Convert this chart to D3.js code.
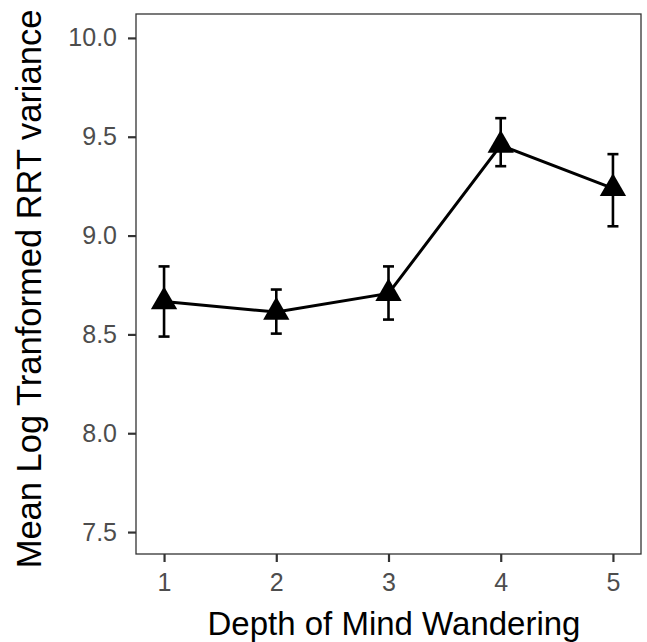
<!DOCTYPE html>
<html><head><meta charset="utf-8">
<script src="https://cdn.jsdelivr.net/npm/d3@7"></script>
<style>body{margin:0;background:#fff}</style>
</head><body>
<script>
const depth = [1, 2, 3, 4, 5];
const meanVals = [8.666, 8.613, 8.707, 9.457, 9.239];
const upperVals = [8.844, 8.727, 8.844, 9.594, 9.412];
const lowerVals = [8.489, 8.504, 8.575, 9.351, 9.047];
const yTicks = [7.5, 8.0, 8.5, 9.0, 9.5, 10.0];
const xTicks = [1, 2, 3, 4, 5];

const W = 647, H = 642;
const m = {left: 136, right: 6, top: 14, bottom: 88};
const svg = d3.select("body").append("svg").attr("width", W).attr("height", H);
const x = d3.scaleLinear().domain([0.75, 5.25]).range([m.left, W - m.right]);
const y = d3.scaleLinear().domain([7.389, 10.121]).range([H - m.bottom, m.top]);
const font = "'Liberation Sans', Arial, sans-serif";

// axes
const ya = svg.append("g").attr("transform", `translate(${m.left},0)`)
  .call(d3.axisLeft(y).tickValues(yTicks).tickFormat(d3.format(".1f")).tickSize(8).tickPadding(11));
const xa = svg.append("g").attr("transform", `translate(0,${H - m.bottom})`)
  .call(d3.axisBottom(x).tickValues(xTicks).tickFormat(d3.format("d")).tickSize(8).tickPadding(11));
[ya, xa].forEach(g => {
  g.attr("font-size", 25).attr("font-family", font);
  g.select(".domain").remove();
  g.selectAll(".tick line").attr("stroke", "#333").attr("stroke-width", 2.2);
  g.selectAll(".tick text").attr("fill", "#4d4d4d").attr("font-size", 25).attr("font-family", font);
});

// panel border
svg.append("rect").attr("x", m.left).attr("y", m.top)
  .attr("width", W - m.right - m.left).attr("height", H - m.bottom - m.top)
  .attr("fill", "none").attr("stroke", "#333").attr("stroke-width", 1.3);

const data = depth.map((d, i) => ({d, m: meanVals[i], u: upperVals[i], l: lowerVals[i]}));

// error bars
const eb = svg.append("g").attr("stroke", "#000").attr("stroke-width", 2.6);
data.forEach(p => {
  eb.append("line").attr("x1", x(p.d)).attr("x2", x(p.d)).attr("y1", y(p.u)).attr("y2", y(p.l));
  eb.append("line").attr("x1", x(p.d) - 5.5).attr("x2", x(p.d) + 5.5).attr("y1", y(p.u)).attr("y2", y(p.u));
  eb.append("line").attr("x1", x(p.d) - 5.5).attr("x2", x(p.d) + 5.5).attr("y1", y(p.l)).attr("y2", y(p.l));
});

// line
svg.append("path").datum(data)
  .attr("d", d3.line().x(p => x(p.d)).y(p => y(p.m)))
  .attr("fill", "none").attr("stroke", "#000").attr("stroke-width", 3);

// triangles
svg.append("g").selectAll("path").data(data).join("path")
  .attr("transform", p => `translate(${x(p.d)},${y(p.m)})`)
  .attr("d", d3.symbol().type(d3.symbolTriangle).size(300))
  .attr("fill", "#000");

// titles
svg.append("text").attr("x", 394).attr("y", 635)
  .attr("text-anchor", "middle").attr("font-family", font).attr("font-size", 33).attr("fill", "#000")
  .text("Depth of Mind Wandering");
svg.append("text").attr("transform", `translate(41,289) rotate(-90)`)
  .attr("text-anchor", "middle").attr("font-family", font).attr("font-size", 34.5).attr("fill", "#000")
  .text("Mean Log Tranformed RRT variance");
</script>
</body></html>
